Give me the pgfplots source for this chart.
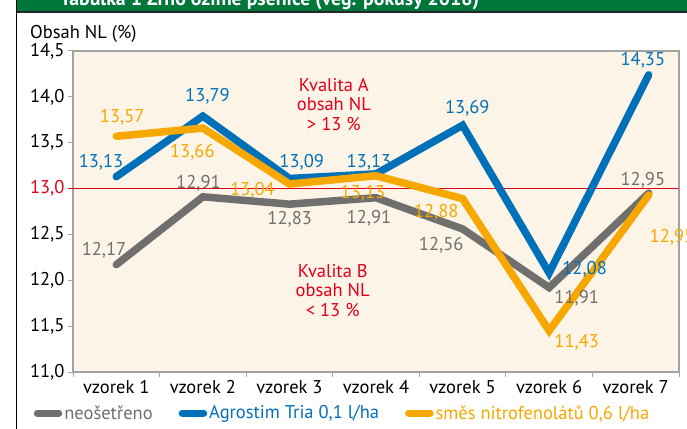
\documentclass[border=0pt]{standalone}
\usepackage{pgfplots}
\pgfplotsset{compat=1.18}
\usepackage{fontspec}
\setmainfont{PT Sans}
\definecolor{peach}{HTML}{FDF4E8}
\definecolor{sgray}{HTML}{6F6F6E}
\definecolor{sblue}{HTML}{0070B8}
\definecolor{sorange}{HTML}{F6A800}
\definecolor{sred}{HTML}{E2001A}
\definecolor{axisgray}{HTML}{A3A3A3}
\definecolor{hdrgreen}{HTML}{00773A}
\newcommand{\lbl}{\fontsize{18.5}{19.5}\selectfont}
\begin{document}
\begin{tikzpicture}[x=1pt,y=1pt]
\useasboundingbox (0,0) rectangle (687,428);
\fill[hdrgreen] (17,416) rectangle (700,445);
\node[anchor=base west, text=white, inner sep=0pt, font=\bfseries\fontsize{19.8}{24}\selectfont] at (60,422) {Tabulka 1 Zrno ozimé pšenice (veg. pokusy 2018)};
\draw[black!85, line width=1.6pt] (17,416) -- (700,416);
\draw[black, line width=1.6pt] (16.5,-5) -- (16.5,433);
\node[anchor=west, inner sep=0pt, font=\fontsize{18.5}{21}\selectfont] at (30,394) {Obsah NL (\%)};
\begin{axis}[
  at={(73pt,56pt)}, anchor=south west,
  scale only axis, width=606pt, height=321pt,
  xmin=0.5, xmax=7.5, ymin=11, ymax=14.5,
  axis background/.style={fill=peach},
  axis line style={draw=axisgray, line width=1.2pt},
  clip=false,
  ytick={11,11.5,12,12.5,13,13.5,14,14.5},
  yticklabels={{11,0},{11,5},{12,0},{12,5},{\textcolor{sred}{13,0}},{13,5},{14,0},{14,5}},
  xtick={1,2,3,4,5,6,7},
  xticklabels={vzorek 1,vzorek 2,vzorek 3,vzorek 4,vzorek 5,vzorek 6,vzorek 7},
  minor xtick={0.5,1.5,2.5,3.5,4.5,5.5,6.5,7.5},
  major x tick style={draw=none},
  tick style={draw=axisgray, line width=1pt},
  tick align=outside,
  major tick length=5pt, minor tick length=5pt,
  xtick pos=bottom, ytick pos=left,
  ticklabel style={font=\lbl},
  xticklabel style={yshift=0pt},
  legend style={at={(-0.07,-0.128)}, anchor=west, draw=none, fill=none,
    font=\lbl, legend columns=3,
    /tikz/every even column/.append style={column sep=24pt}},
  legend image code/.code={\draw[line width=7pt, line cap=round] (3.5pt,0pt) -- (25pt,0pt);},
]
\draw[sred, line width=1pt] (axis cs:0.442,13) -- (axis cs:7.5,13);
\addplot[sgray, line width=7.5pt, line cap=round, miter limit=4] coordinates {(1,12.17)(2,12.91)(3,12.83)(4,12.90)(5,12.56)(6,11.92)(7.15,12.95)};
\addlegendentry{\textcolor{sgray}{neošetřeno}}
\addplot[sblue, line width=7.5pt, line cap=round, miter limit=4] coordinates {(1,13.13)(2,13.79)(3,13.11)(4,13.16)(5,13.69)(6,12.08)(7.15,14.24)};
\addlegendentry{\textcolor{sblue}{Agrostim Tria 0,1 l/ha}}
\addplot[sorange, line width=7.5pt, line cap=round, miter limit=4] coordinates {(1,13.57)(2,13.66)(3,13.05)(4,13.14)(5,12.89)(6,11.45)(7.15,12.93)};
\addlegendentry{\textcolor{sorange}{směs nitrofenolátů 0,6 l/ha}}
% value labels
\node[text=sblue, font=\lbl] at (axis cs:0.824,13.29) {13,13};
\node[text=sorange, font=\lbl] at (axis cs:1.068,13.78) {13,57};
\node[text=sblue, font=\lbl] at (axis cs:2.053,14.01) {13,79};
\node[text=sorange, font=\lbl] at (axis cs:1.879,13.40) {13,66};
\node[text=sgray, font=\lbl] at (axis cs:1.949,13.06) {12,91};
\node[text=sblue, font=\lbl] at (axis cs:3.142,13.29) {13,09};
\node[text=sorange, font=\lbl] at (axis cs:2.574,12.98) {13,04};
\node[text=sblue, font=\lbl] at (axis cs:3.919,13.29) {13,13};
\node[text=sorange, font=\lbl] at (axis cs:3.849,12.95) {13,13};
\node[text=sgray, font=\lbl] at (axis cs:3.003,12.67) {12,83};
\node[text=sgray, font=\lbl] at (axis cs:3.919,12.68) {12,91};
\node[text=sgray, font=\lbl] at (axis cs:0.859,12.33) {12,17};
\node[text=sblue, font=\lbl] at (axis cs:5.054,13.876) {13,69};
\node[text=sblue, font=\lbl] at (axis cs:7.083,14.40) {14,35};
\node[text=sgray, font=\lbl] at (axis cs:7.083,13.09) {12,95};
\node[text=sorange, font=\lbl] at (axis cs:4.695,12.74) {12,88};
\node[text=sgray, font=\lbl] at (axis cs:4.753,12.38) {12,56};
\node[text=sblue, font=\lbl] at (axis cs:6.41,12.12) {12,08};
\node[text=sgray, font=\lbl] at (axis cs:6.318,11.806) {11,91};
\node[text=sorange, font=\lbl] at (axis cs:6.318,11.327) {11,43};
\node[text=sorange, font=\lbl] at (axis cs:7.419,12.47) {12,95};
\node[text=sred, font=\lbl, align=center] at (axis cs:3.513,13.92) {Kvalita A\\obsah NL\\> 13 \%};
\node[text=sred, font=\lbl, align=center] at (axis cs:3.50,11.89) {Kvalita B\\obsah NL\\< 13 \%};
\end{axis}
\end{tikzpicture}
\end{document}
